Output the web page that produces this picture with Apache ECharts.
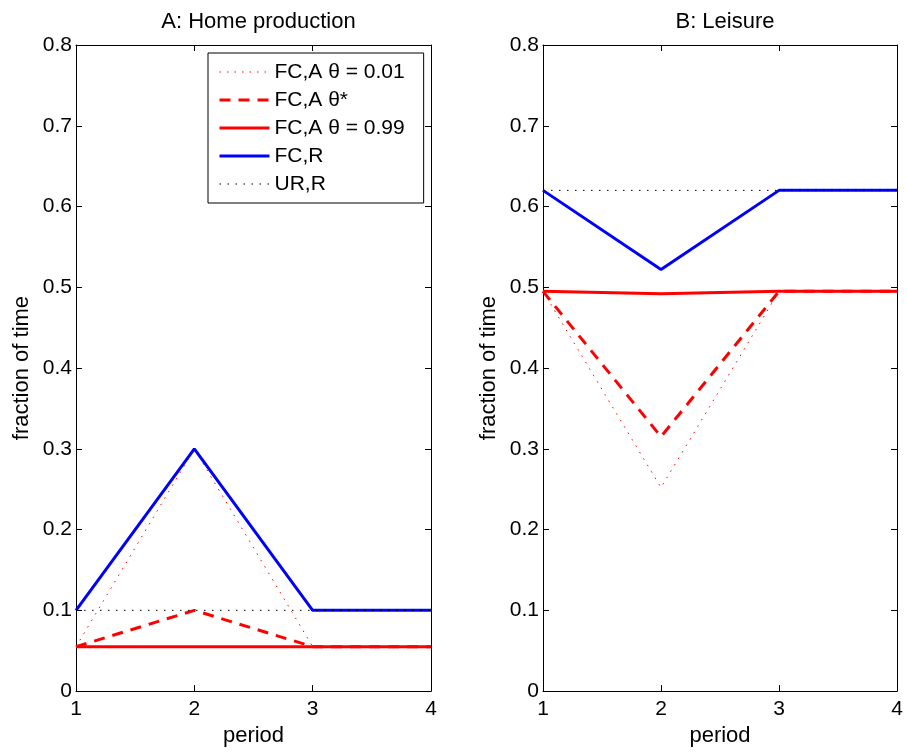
<!DOCTYPE html>
<html>
<head>
<meta charset="utf-8">
<script src="https://cdn.jsdelivr.net/npm/echarts@6/dist/echarts.min.js"></script>
<style>
  html, body { margin: 0; padding: 0; background: #fff; }
  #chart { width: 907px; height: 752px; }
</style>
</head>
<body>
<div id="chart"></div>
<script>
// Time allocation over four periods, two panels
const periods = [1, 2, 3, 4];
const seriesNames = ['FC,A \u03b8 = 0.01', 'FC,A \u03b8*', 'FC,A \u03b8 = 0.99', 'FC,R', 'UR,R'];

// Panel A: home production
const homeTheta001 = [0.055, 0.300, 0.055, 0.055];
const homeThetaStar = [0.055, 0.100, 0.055, 0.055];
const homeTheta099 = [0.055, 0.055, 0.055, 0.055];
const homeFCR = [0.100, 0.300, 0.100, 0.100];
const homeURR = [0.100, 0.100, 0.100, 0.100];

// Panel B: leisure
const leisureTheta001 = [0.495, 0.252, 0.495, 0.495];
const leisureThetaStar = [0.495, 0.315, 0.495, 0.495];
const leisureTheta099 = [0.495, 0.492, 0.495, 0.495];
const leisureFCR = [0.620, 0.522, 0.620, 0.620];
const leisureURR = [0.620, 0.620, 0.620, 0.620];

const panelTitles = ['A: Home production', 'B: Leisure'];
const xTicks = [1, 2, 3, 4];
const yMin = 0, yMax = 0.8, yStep = 0.1;

const FONT = 'Liberation Sans, Arial, Helvetica, sans-serif';
const FS = 21;
const FS_NAME = 22;
const grids = [
  { left: 76, top: 45, width: 355, height: 647 },
  { left: 543, top: 45, width: 354, height: 647 }
];

const styles = [
  { color: '#ff0000', width: 1, type: [1.5, 6] },
  { color: '#ff0000', width: 3, type: [11, 8] },
  { color: '#ff0000', width: 3, type: 'solid' },
  { color: '#0000ff', width: 3, type: 'solid' },
  { color: '#000000', width: 1, type: [1.5, 6.5] }
];

const panels = [
  [homeTheta001, homeThetaStar, homeTheta099, homeFCR, homeURR],
  [leisureTheta001, leisureThetaStar, leisureTheta099, leisureFCR, leisureURR]
];

function pairs(values) {
  return periods.map((p, i) => [p, values[i]]);
}

const xAxes = [], yAxes = [], series = [];
grids.forEach((g, gi) => {
  const common = {
    gridIndex: gi,
    axisLine: { show: true, onZero: false, lineStyle: { color: '#000', width: 1 } },
    axisTick: { show: true, inside: true, length: 6, lineStyle: { color: '#000' } },
    splitLine: { show: false }
  };
  xAxes.push(Object.assign({}, common, {
    type: 'value', position: 'bottom',
    min: xTicks[0], max: xTicks[xTicks.length - 1], interval: 1,
    name: 'period', nameLocation: 'middle', nameGap: 32,
    nameTextStyle: { fontFamily: FONT, fontSize: FS_NAME, color: '#000' },
    axisLabel: { show: true, margin: 8, fontFamily: FONT, fontSize: FS, color: '#000' }
  }));
  xAxes.push(Object.assign({}, common, {
    type: 'value', position: 'top',
    min: xTicks[0], max: xTicks[xTicks.length - 1], interval: 1,
    axisLabel: { show: false }
  }));
  yAxes.push(Object.assign({}, common, {
    type: 'value', position: 'left',
    min: yMin, max: yMax, interval: yStep,
    name: 'fraction of time', nameLocation: 'middle', nameGap: 43,
    nameTextStyle: { fontFamily: FONT, fontSize: FS_NAME, color: '#000' },
    axisLabel: {
      show: true, margin: 4, fontFamily: FONT, fontSize: FS, color: '#000',
      formatter: v => (Math.abs(v) < 1e-9 ? '0' : v.toFixed(1))
    }
  }));
  yAxes.push(Object.assign({}, common, {
    type: 'value', position: 'right',
    min: yMin, max: yMax, interval: yStep,
    axisLabel: { show: false }
  }));

  panels[gi].forEach((vals, si) => {
    const s = styles[si];
    series.push({
      name: seriesNames[si],
      type: 'line',
      xAxisIndex: gi * 2,
      yAxisIndex: gi * 2,
      data: pairs(vals),
      symbol: 'none',
      silent: true,
      animation: false,
      z: 2 + si,
      color: s.color,
      lineStyle: { color: s.color, width: s.width, type: s.type, cap: 'butt' }
    });
  });
});

const chart = echarts.init(document.getElementById('chart'), null, { renderer: 'canvas' });
chart.setOption({
  backgroundColor: '#fff',
  animation: false,
  title: panelTitles.map((t, i) => ({
    text: t,
    left: grids[i].left + grids[i].width / 2,
    top: 6,
    textAlign: 'center',
    textStyle: { fontFamily: FONT, fontSize: FS_NAME, fontWeight: 'normal', color: '#000' }
  })),
  legend: {
    data: seriesNames,
    orient: 'vertical',
    left: 208,
    top: 53,
    padding: [8, 19, 8, 10],
    itemWidth: 50,
    itemHeight: 12,
    itemGap: 6,
    selectedMode: false,
    backgroundColor: '#fff',
    borderColor: '#000',
    borderWidth: 1,
    itemStyle: { opacity: 0 },
    lineStyle: { width: 'inherit' },
    textStyle: { fontFamily: FONT, fontSize: FS, color: '#000', lineHeight: 22 }
  },
  grid: grids,
  xAxis: xAxes,
  yAxis: yAxes,
  series: series
});
</script>
</body>
</html>
